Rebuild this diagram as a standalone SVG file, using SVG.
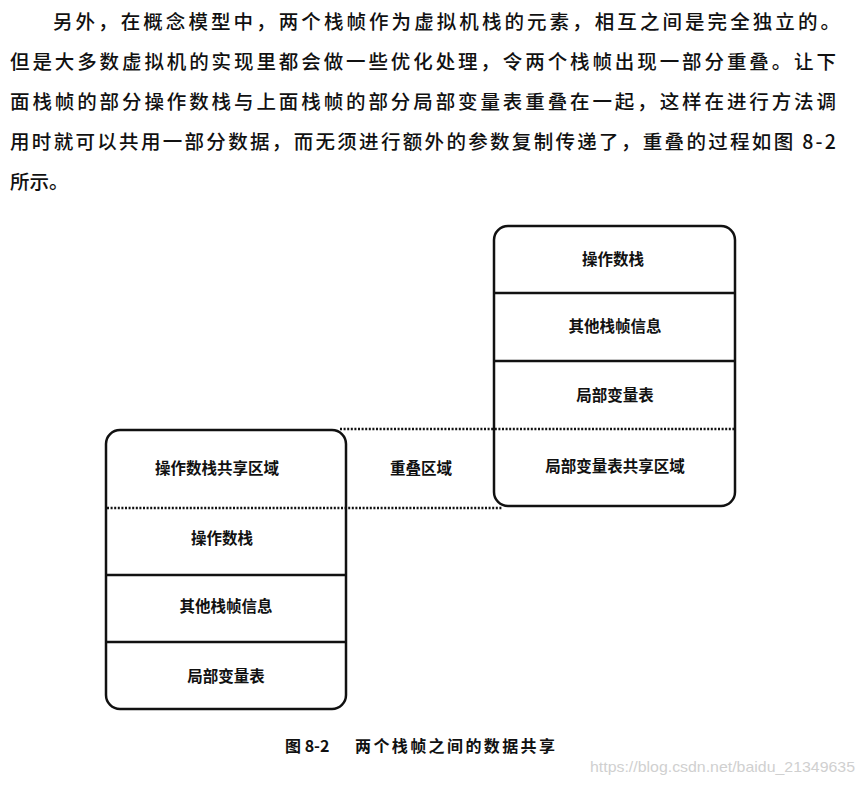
<svg xmlns="http://www.w3.org/2000/svg" width="859" height="785" viewBox="0 0 859 785">
<style>
.body{font-family:"Noto Sans CJK SC","Noto Sans",sans-serif;font-size:19.5px;font-weight:500;fill:#111;}
.lbl{font-family:"Noto Sans CJK SC","Noto Sans",sans-serif;font-size:15.5px;font-weight:bold;fill:#111;text-anchor:middle;}
.cap{font-family:"Noto Sans CJK SC","Noto Sans",sans-serif;font-size:16px;font-weight:bold;fill:#111;}
.box{fill:#fff;stroke:#111;stroke-width:2.5;}
.div{stroke:#111;stroke-width:2.5;}
.dot{stroke:#111;stroke-width:2.6;stroke-dasharray:2 1.6;fill:none;}
.wm{font-family:"Liberation Sans",Arial,sans-serif;font-size:15px;fill:#d0d0d0;}
</style>
<rect width="859" height="785" fill="#fff"/>
<g id="paragraph">
<text class="body" x="53" y="29" textLength="787" lengthAdjust="spacing">另外，在概念模型中，两个栈帧作为虚拟机栈的元素，相互之间是完全独立的。</text>
<text class="body" x="10" y="69" textLength="826" lengthAdjust="spacing">但是大多数虚拟机的实现里都会做一些优化处理，令两个栈帧出现一部分重叠。让下</text>
<text class="body" x="10" y="109" textLength="826" lengthAdjust="spacing">面栈帧的部分操作数栈与上面栈帧的部分局部变量表重叠在一起，这样在进行方法调</text>
<text class="body" x="10" y="149" textLength="826" lengthAdjust="spacing">用时就可以共用一部分数据，而无须进行额外的参数复制传递了，重叠的过程如图 8-2</text>
<text class="body" x="10" y="189">所示。</text>
</g>
<g id="upper-frame">
<rect class="box" x="494" y="226" width="241" height="280" rx="14"/>
<line class="div" x1="494" y1="293" x2="735" y2="293"/>
<line class="div" x1="494" y1="361" x2="735" y2="361"/>
<text class="lbl" x="613" y="265">操作数栈</text>
<text class="lbl" x="615" y="332">其他栈帧信息</text>
<text class="lbl" x="615" y="401">局部变量表</text>
<text class="lbl" x="615" y="472">局部变量表共享区域</text>
</g>
<g id="lower-frame">
<rect class="box" x="106" y="430" width="240" height="279" rx="14"/>
<line class="div" x1="106" y1="575" x2="346" y2="575"/>
<line class="div" x1="106" y1="642" x2="346" y2="642"/>
<text class="lbl" x="217" y="474">操作数栈共享区域</text>
<text class="lbl" x="222" y="544">操作数栈</text>
<text class="lbl" x="226" y="612">其他栈帧信息</text>
<text class="lbl" x="226" y="682">局部变量表</text>
</g>
<g id="overlap-label">
<text class="lbl" x="421" y="474">重叠区域</text>
</g>
<g id="connectors">
<line class="dot" x1="340" y1="429" x2="735" y2="429"/>
<line class="dot" x1="107" y1="508" x2="503" y2="508"/>
</g>
<g id="caption">
<text class="cap" x="285" y="752">图 8-2</text>
<text class="cap" x="355" y="752" textLength="200" lengthAdjust="spacing">两个栈帧之间的数据共享</text>
</g>
<text class="wm" x="590" y="772" textLength="265" lengthAdjust="spacingAndGlyphs">https://blog.csdn.net/baidu_21349635</text>
</svg>
